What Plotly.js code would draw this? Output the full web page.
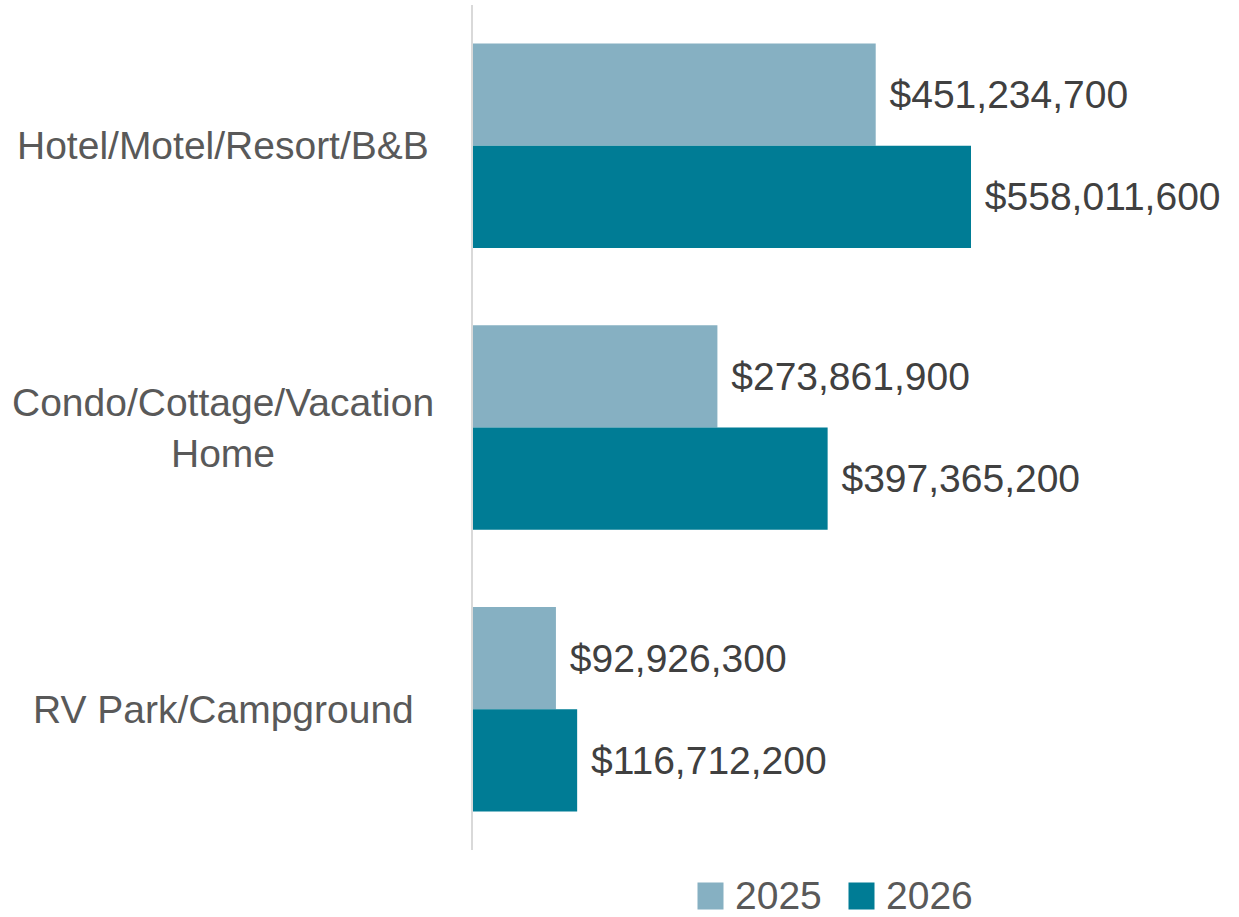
<!DOCTYPE html>
<html><head><meta charset="utf-8">
<script src="https://cdn.plot.ly/plotly-3.0.1.min.js"></script>
<style>html,body{margin:0;padding:0;background:#fff}#chart{width:1239px;height:917px}</style>
</head><body><div id="chart"></div>
<script>
const categories = ["Hotel/Motel/Resort/B&B", "Condo/Cottage/Vacation<br>Home", "RV Park/Campground"];
const seriesNames = ["2025", "2026"];
const values2025 = [451234700, 273861900, 92926300];
const values2026 = [558011600, 397365200, 116712200];
const colors = ["#86B0C2", "#007C95"];

const FONT = '"Liberation Sans Narrow", "Arial Narrow", "Liberation Sans", Arial, sans-serif';
const SIZE = 39;
const fmt = v => "$" + v.toLocaleString("en-US");

// pixel -> paper helpers (plot area: x 473..1209, y 5..850)
const px = x => (x - 473) / 736;
const py = y => (850 - y) / 845;

const series = [values2025, values2026];
const traces = series.map((vals, i) => ({
  type: "bar", orientation: "h",
  name: seriesNames[i],
  y: categories, x: vals,
  marker: {color: colors[i]},
  text: vals.map(v => "\u00a0" + fmt(v)),
  textposition: "outside",
  cliponaxis: false,
  textfont: {family: FONT, size: SIZE, color: "#404040"},
  hoverinfo: "skip"
}));

const annotations = categories.map(c => ({
  xref: "paper", yref: "y", x: px(223), y: c,
  text: c, showarrow: false, xanchor: "center", yanchor: "middle", align: "center",
  font: {family: FONT, size: SIZE, color: "#595959"}
}));
// legend: colored squares + labels
const legendX = [697, 848];
seriesNames.forEach((n, i) => {
  annotations.push({
    xref: "paper", yref: "paper", x: px(legendX[i]), y: py(896), xanchor: "left", yanchor: "middle",
    showarrow: false, text: "\u00a0", width: 25, height: 26, borderpad: 0, bgcolor: colors[i],
    font: {size: 10}
  });
  annotations.push({
    xref: "paper", yref: "paper", x: px(legendX[i] + 36), y: py(895), xanchor: "left", yanchor: "middle",
    showarrow: false, text: n, font: {family: FONT, size: SIZE, color: "#595959"}
  });
});

const layout = {
  width: 1239, height: 917,
  margin: {l: 473, r: 30, t: 5, b: 67},
  paper_bgcolor: "#fff", plot_bgcolor: "#fff",
  barmode: "group", bargap: 0.274, bargroupgap: 0,
  showlegend: false,
  font: {family: FONT},
  xaxis: {range: [0, 736 / 498 * 558011600], showgrid: false, zeroline: false, showticklabels: false, showline: false, fixedrange: true},
  yaxis: {autorange: "reversed", showticklabels: false, showline: true, linecolor: "#d9d9d9", linewidth: 2, showgrid: false, ticks: "", fixedrange: true},
  annotations: annotations
};

Plotly.newPlot("chart", traces, layout, {staticPlot: true, displayModeBar: false});
</script></body></html>
